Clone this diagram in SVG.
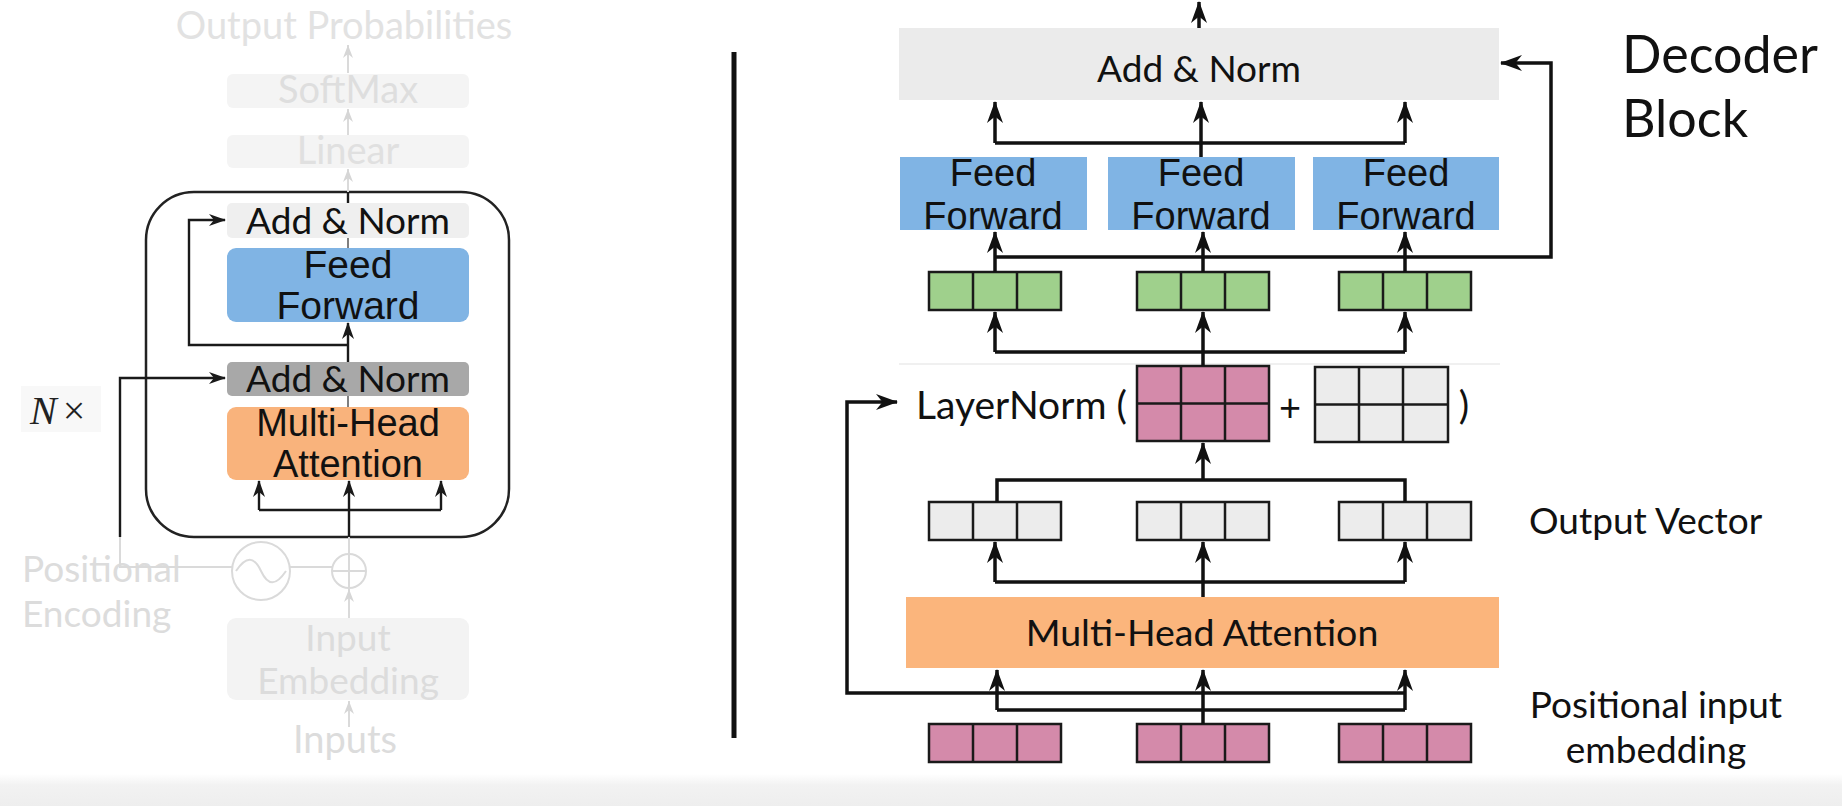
<svg xmlns="http://www.w3.org/2000/svg" width="1842" height="806" viewBox="0 0 1842 806">
<defs>
<style>
.lato{font-family:Lato,"Noto Sans",sans-serif}
.arial{font-family:"Liberation Sans",Arial,sans-serif}
.ln{fill:none;stroke:#111;stroke-width:3.5}
.lns{fill:none;stroke:#1a1a1a;stroke-width:2.4}
.lnf{fill:none;stroke:#dadada;stroke-width:2}
.cell{stroke:#1a1a1a;stroke-width:2.5}
</style>
<marker id="ah" viewBox="0 0 22 17" refX="21" refY="8.5" markerWidth="22" markerHeight="17" orient="auto" markerUnits="userSpaceOnUse"><path d="M0,0.5 L22,8.5 L0,16.5 L6.5,8.5 z" fill="#111"/></marker>
<marker id="ahs" viewBox="0 0 17 13" refX="16" refY="6.5" markerWidth="17" markerHeight="13" orient="auto" markerUnits="userSpaceOnUse"><path d="M0,0.5 L17,6.5 L0,12.5 L5,6.5 z" fill="#1a1a1a"/></marker>
<marker id="ahf" viewBox="0 0 13 11" refX="13" refY="5.5" markerWidth="13" markerHeight="11" orient="auto" markerUnits="userSpaceOnUse"><path d="M0,0.5 L13,5.5 L0,10.5 L4,5.5 z" fill="#d6d6d6"/></marker>
<linearGradient id="band" x1="0" y1="0" x2="0" y2="1"><stop offset="0" stop-color="#ffffff"/><stop offset="0.35" stop-color="#f2f2f2"/><stop offset="1" stop-color="#eeeeee"/></linearGradient>
</defs>
<rect width="1842" height="806" fill="#ffffff"/>
<rect x="0" y="774" width="1842" height="32" fill="url(#band)"/>

<!-- LEFT PANEL -->
<g id="left-output-prob"><text x="344" y="39" text-anchor="middle" class="lato" font-size="38" fill="#e2e2e2">Output Probabilities</text></g>
<g id="left-softmax"><rect x="227" y="74" width="242" height="34" rx="6" fill="#f4f4f4"/><text x="348" y="103" text-anchor="middle" class="lato" font-size="38" fill="#dedede">SoftMax</text></g>
<g id="left-linear"><rect x="227" y="135" width="242" height="33" rx="6" fill="#f4f4f4"/><text x="348" y="164" text-anchor="middle" class="lato" font-size="38" fill="#e0e0e0">Linear</text></g>
<g id="left-block"><rect x="146" y="192" width="363" height="345" rx="48" fill="none" stroke="#222" stroke-width="2.5"/></g>
<g id="left-addnorm-top"><rect x="227" y="203" width="242" height="35" rx="5" fill="#efefef"/><text x="348" y="234" text-anchor="middle" class="lato" font-size="37" fill="#111">Add &amp; Norm</text></g>
<g id="left-ff"><rect x="227" y="248" width="242" height="74" rx="9" fill="#80b4e4"/><text x="348" y="278" text-anchor="middle" class="arial" font-size="39" fill="#111">Feed</text><text x="348" y="319" text-anchor="middle" class="arial" font-size="39" fill="#111">Forward</text></g>
<g id="left-addnorm-mid"><rect x="227" y="362" width="242" height="34" rx="5" fill="#a8a8a8"/><text x="348" y="392" text-anchor="middle" class="lato" font-size="37" fill="#111">Add &amp; Norm</text></g>
<g id="left-mha"><rect x="227" y="407" width="242" height="73" rx="9" fill="#f9b37c"/><text x="348" y="436" text-anchor="middle" class="arial" font-size="38" fill="#111">Multi-Head</text><text x="348" y="477" text-anchor="middle" class="arial" font-size="38" fill="#111">Attention</text></g>
<g id="left-nx"><rect x="21" y="386" width="80" height="46" fill="#f8f8f8"/><text x="30" y="424" font-family="'Liberation Serif',serif" font-size="40" fill="#222"><tspan font-style="italic">N</tspan><tspan dx="6">×</tspan></text></g>
<g id="left-posenc"><text x="22" y="582" class="lato" font-size="37" fill="#dcdcdc">Positional</text><text x="22" y="627" class="lato" font-size="37" fill="#dcdcdc">Encoding</text></g>
<g id="left-sine"><circle cx="261" cy="571" r="29" fill="none" stroke="#dadada" stroke-width="2"/><path d="M236,571 C246,556 254,556 261,571 C268,586 276,586 286,571" fill="none" stroke="#dadada" stroke-width="2"/></g>
<g id="left-plus"><circle cx="349" cy="571" r="17" fill="none" stroke="#dadada" stroke-width="2"/><path d="M332,571 H366 M349,554 V588" stroke="#dadada" stroke-width="2"/></g>
<g id="left-input-emb"><rect x="227" y="618" width="242" height="82" rx="9" fill="#f3f3f3"/><text x="348" y="651" text-anchor="middle" class="lato" font-size="37" fill="#dcdcdc">Input</text><text x="348" y="694" text-anchor="middle" class="lato" font-size="37" fill="#dcdcdc">Embedding</text></g>
<g id="left-inputs"><text x="345" y="753" text-anchor="middle" class="lato" font-size="38" fill="#dcdcdc">Inputs</text></g>

<g id="left-connectors">
<path class="lnf" d="M348,73 V45" marker-end="url(#ahf)"/>
<path class="lnf" d="M348,135 V109" marker-end="url(#ahf)"/>
<path class="lnf" d="M348,192 V169" marker-end="url(#ahf)"/>
<path class="lns" d="M348,203 V192"/>
<path d="M348,248 V238" stroke="#555" stroke-width="1.5"/>
<path class="lns" d="M348,362 V323" marker-end="url(#ahs)"/>
<path class="lns" d="M348,345 H189 V220 H225" marker-end="url(#ahs)"/>
<path d="M348,407 V396" stroke="#555" stroke-width="1.5"/>
<path class="lns" d="M120,537 V378 H225" marker-end="url(#ahs)"/>
<path class="lnf" d="M120,537 V567 H232 M290,567 H332"/>
<path class="lns" d="M349,537 V481" marker-end="url(#ahs)"/>
<path class="lns" d="M259,510 H441"/>
<path class="lns" d="M259,510 V481" marker-end="url(#ahs)"/>
<path class="lns" d="M441,510 V481" marker-end="url(#ahs)"/>
<path class="lnf" d="M349,554 V537"/>
<path class="lnf" d="M349,618 V589" marker-end="url(#ahf)"/>
<path class="lnf" d="M349,727 V701" marker-end="url(#ahf)"/>
</g>

<!-- DIVIDER -->
<g id="divider"><line x1="734" y1="52" x2="734" y2="738" stroke="#111" stroke-width="5"/></g>

<!-- RIGHT PANEL -->
<g id="r-addnorm"><rect x="899" y="28" width="600" height="72" fill="#ebebeb"/><text x="1199" y="82" text-anchor="middle" class="lato" font-size="37" fill="#111">Add &amp; Norm</text></g>
<g id="r-title"><text x="1622" y="73" class="lato" font-size="52" fill="#111">Decoder</text><text x="1622" y="137" class="lato" font-size="52" fill="#111">Block</text></g>
<g id="r-ff1"><rect x="900" y="157" width="187" height="73" fill="#80b4e4"/><text x="993" y="186" text-anchor="middle" class="arial" font-size="38" fill="#111">Feed</text><text x="993" y="229" text-anchor="middle" class="arial" font-size="38" fill="#111">Forward</text></g>
<g id="r-ff2"><rect x="1108" y="157" width="187" height="73" fill="#80b4e4"/><text x="1201" y="186" text-anchor="middle" class="arial" font-size="38" fill="#111">Feed</text><text x="1201" y="229" text-anchor="middle" class="arial" font-size="38" fill="#111">Forward</text></g>
<g id="r-ff3"><rect x="1313" y="157" width="186" height="73" fill="#80b4e4"/><text x="1406" y="186" text-anchor="middle" class="arial" font-size="38" fill="#111">Feed</text><text x="1406" y="229" text-anchor="middle" class="arial" font-size="38" fill="#111">Forward</text></g>

<g id="r-green1"><rect x="929" y="272" width="132" height="38" fill="#9fd08c" class="cell"/><path d="M973,272 V310 M1017,272 V310" class="cell"/></g>
<g id="r-green2"><rect x="1137" y="272" width="132" height="38" fill="#9fd08c" class="cell"/><path d="M1181,272 V310 M1225,272 V310" class="cell"/></g>
<g id="r-green3"><rect x="1339" y="272" width="132" height="38" fill="#9fd08c" class="cell"/><path d="M1383,272 V310 M1427,272 V310" class="cell"/></g>

<g id="r-separator"><line x1="899" y1="364" x2="1500" y2="364" stroke="#f0f0f0" stroke-width="2"/></g>

<g id="r-layernorm"><text x="916" y="419" class="lato" font-size="39" fill="#111">LayerNorm (</text></g>
<g id="r-pink-matrix"><rect x="1137" y="366" width="132" height="75" fill="#d48aaa" class="cell"/><path d="M1181,366 V441 M1225,366 V441 M1137,403.5 H1269" class="cell"/></g>
<g id="r-plus"><text x="1290" y="421" text-anchor="middle" class="lato" font-size="38" fill="#111">+</text></g>
<g id="r-white-matrix"><rect x="1315" y="367" width="133" height="75" fill="#ececec" class="cell"/><path d="M1359,367 V442 M1403,367 V442 M1315,404.5 H1448" class="cell"/></g>
<g id="r-paren"><text x="1464" y="419" text-anchor="middle" class="lato" font-size="39" fill="#111">)</text></g>

<g id="r-out1"><rect x="929" y="502" width="132" height="38" fill="#ececec" class="cell"/><path d="M973,502 V540 M1017,502 V540" class="cell"/></g>
<g id="r-out2"><rect x="1137" y="502" width="132" height="38" fill="#ececec" class="cell"/><path d="M1181,502 V540 M1225,502 V540" class="cell"/></g>
<g id="r-out3"><rect x="1339" y="502" width="132" height="38" fill="#ececec" class="cell"/><path d="M1383,502 V540 M1427,502 V540" class="cell"/></g>
<g id="r-out-label"><text x="1529" y="534" class="lato" font-size="37" fill="#111">Output Vector</text></g>

<g id="r-mha"><rect x="906" y="597" width="593" height="71" fill="#fbb57c"/><text x="1202" y="646" text-anchor="middle" class="lato" font-size="37.5" fill="#111">Multi-Head Attention</text></g>

<g id="r-pin1"><rect x="929" y="724" width="132" height="38" fill="#d48aaa" class="cell"/><path d="M973,724 V762 M1017,724 V762" class="cell"/></g>
<g id="r-pin2"><rect x="1137" y="724" width="132" height="38" fill="#d48aaa" class="cell"/><path d="M1181,724 V762 M1225,724 V762" class="cell"/></g>
<g id="r-pin3"><rect x="1339" y="724" width="132" height="38" fill="#d48aaa" class="cell"/><path d="M1383,724 V762 M1427,724 V762" class="cell"/></g>
<g id="r-pin-label"><text x="1656" y="718" text-anchor="middle" class="lato" font-size="37" fill="#111">Positional input</text><text x="1656" y="763" text-anchor="middle" class="lato" font-size="37" fill="#111">embedding</text></g>

<g id="right-connectors">
<path class="ln" d="M1199,28 V2" marker-end="url(#ah)"/>
<path class="ln" d="M1201,157 V102" marker-end="url(#ah)"/>
<path class="ln" d="M995,143 H1405"/>
<path class="ln" d="M995,143 V102" marker-end="url(#ah)"/>
<path class="ln" d="M1405,143 V102" marker-end="url(#ah)"/>
<path class="ln" d="M995,257 H1551 V63 H1501" marker-end="url(#ah)"/>
<path class="ln" d="M995,272 V232" marker-end="url(#ah)"/>
<path class="ln" d="M1203,272 V232" marker-end="url(#ah)"/>
<path class="ln" d="M1405,272 V232" marker-end="url(#ah)"/>
<path class="ln" d="M995,352 H1405"/>
<path class="ln" d="M1203,366 V312" marker-end="url(#ah)"/>
<path class="ln" d="M995,352 V312" marker-end="url(#ah)"/>
<path class="ln" d="M1405,352 V312" marker-end="url(#ah)"/>
<path class="ln" d="M997,502 V480 H1405 V502"/>
<path class="ln" d="M1203,480 V443" marker-end="url(#ah)"/>
<path class="ln" d="M995,582 H1405"/>
<path class="ln" d="M1203,597 V542" marker-end="url(#ah)"/>
<path class="ln" d="M995,582 V542" marker-end="url(#ah)"/>
<path class="ln" d="M1405,582 V542" marker-end="url(#ah)"/>
<path class="ln" d="M997,710 H1405"/>
<path class="ln" d="M1203,724 V670" marker-end="url(#ah)"/>
<path class="ln" d="M997,710 V670" marker-end="url(#ah)"/>
<path class="ln" d="M1405,710 V670" marker-end="url(#ah)"/>
<path class="ln" d="M1405,693 H847 V402 H897" marker-end="url(#ah)"/>
</g>
</svg>
